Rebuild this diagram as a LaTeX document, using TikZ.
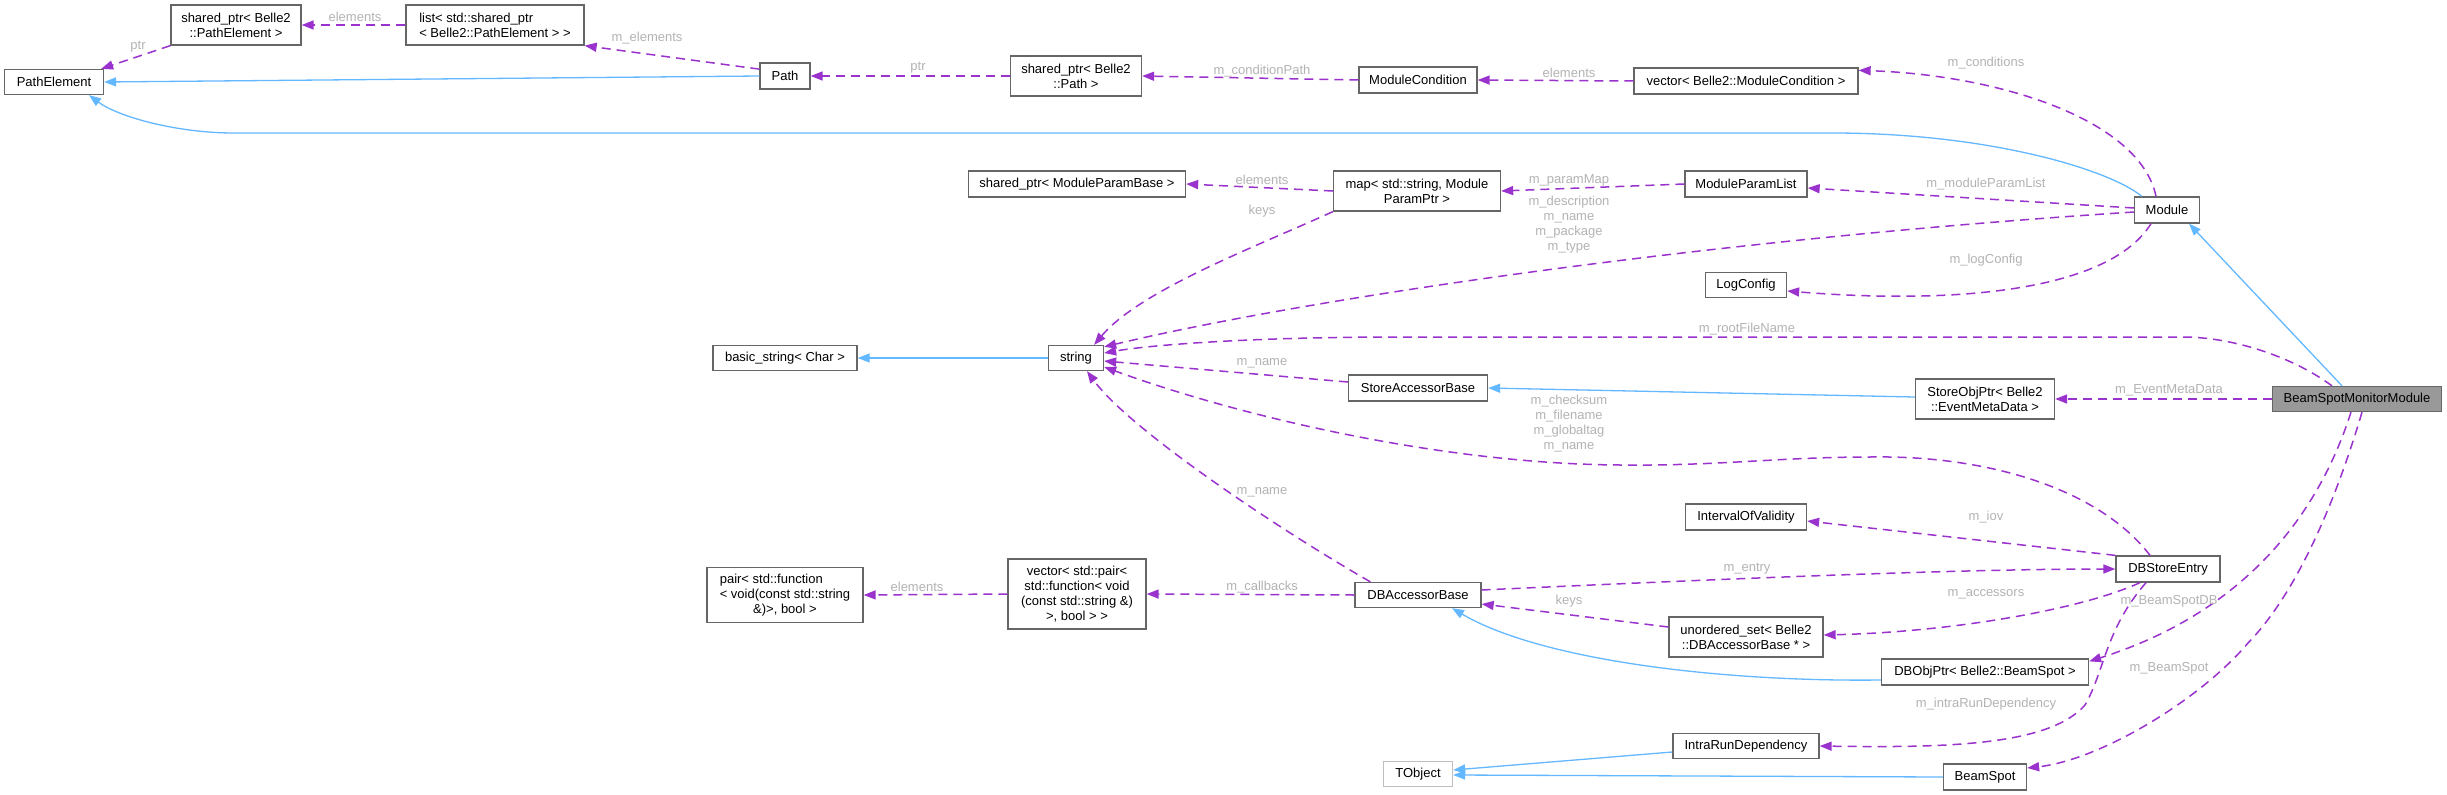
\documentclass[tikz,border=0pt]{standalone}
\usepackage{fontspec}
\setmainfont{Liberation Sans}
\usetikzlibrary{arrows.meta,calc}
\definecolor{depc}{HTML}{9A32CD}
\definecolor{inhc}{HTML}{63B8FF}
\definecolor{bord}{HTML}{666666}
\definecolor{lblc}{HTML}{B3B3B3}
\definecolor{bsmfill}{HTML}{999999}
\definecolor{tobj}{HTML}{BFBFBF}
\begin{document}
\begin{tikzpicture}[x=1pt,y=-1pt,
 box/.style={draw=bord, line width=1.3pt, fill=white, inner sep=0pt, align=center, font=\fontsize{13}{15}\selectfont},
 lbl/.style={text=lblc, inner sep=0pt, align=center, font=\fontsize{13}{15}\selectfont},
 depedge/.style={draw=depc, line width=1.5pt, dash pattern=on 9pt off 6pt, -{Triangle[length=12pt,width=9pt]}},
 inhedge/.style={draw=inhc, line width=1.3pt, -{Triangle[length=12pt,width=9pt]}},
]
\useasboundingbox (0,0) rectangle (2447,795);
\fill[white] (0,0) rectangle (2447,795);

% nodes
\node[box,minimum width=99pt,minimum height=25pt] (PE) at (54,82) {PathElement};
\node[box,minimum width=130pt,minimum height=40pt] (spPE) at (236,25) {shared\_ptr< Belle2\\::PathElement >};
\node[box,minimum width=178pt,minimum height=40pt,align=left] (listPE) at (495,25) {list< std::shared\_ptr\\< Belle2::PathElement > >};
\node[box,minimum width=50pt,minimum height=26pt] (Path) at (785,76) {Path};
\node[box,minimum width=131pt,minimum height=40pt] (spPath) at (1076,76) {shared\_ptr< Belle2\\::Path >};
\node[box,minimum width=118pt,minimum height=26pt] (MC) at (1418,80) {ModuleCondition};
\node[box,minimum width=224pt,minimum height=26pt] (vecMC) at (1746,81) {vector< Belle2::ModuleCondition >};
\node[box,minimum width=217pt,minimum height=26pt] (spMPB) at (1077,184) {shared\_ptr< ModuleParamBase >};
\node[box,minimum width=167pt,minimum height=40pt] (map) at (1417,191) {map< std::string, Module\\ParamPtr >};
\node[box,minimum width=122pt,minimum height=26pt] (MPL) at (1746,184) {ModuleParamList};
\node[box,minimum width=65pt,minimum height=26pt] (Module) at (2167,210) {Module};
\node[box,minimum width=81pt,minimum height=25pt] (LogConfig) at (1746,285) {LogConfig};
\node[box,minimum width=144pt,minimum height=25pt] (bstr) at (785,358) {basic\_string< Char >};
\node[box,minimum width=55pt,minimum height=25pt] (string) at (1076,358) {string};
\node[box,minimum width=139pt,minimum height=26pt] (SAB) at (1418,388) {StoreAccessorBase};
\node[box,minimum width=139pt,minimum height=40pt] (SOP) at (1985,399) {StoreObjPtr< Belle2\\::EventMetaData >};
\node[box,fill=bsmfill,minimum width=169pt,minimum height=25pt] (BSMM) at (2357,399) {BeamSpotMonitorModule};
\node[box,minimum width=121pt,minimum height=26pt] (IOV) at (1746,517) {IntervalOfValidity};
\node[box,minimum width=104pt,minimum height=26pt] (DBSE) at (2168,569) {DBStoreEntry};
\node[box,minimum width=156pt,minimum height=55pt] (pair) at (785,595) {\begin{tabular}{@{}l@{}}pair< std::function\\< void(const std::string\\\multicolumn{1}{@{}c@{}}{\&)>, bool >}\end{tabular}};
\node[box,minimum width=138pt,minimum height=70pt] (vecPair) at (1077,594) {vector< std::pair<\\std::function< void\\(const std::string \&)\\>, bool > >};
\node[box,minimum width=126pt,minimum height=25pt] (DBAB) at (1418,595) {DBAccessorBase};
\node[box,minimum width=154pt,minimum height=40pt] (uset) at (1746,637) {unordered\_set< Belle2\\::DBAccessorBase * >};
\node[box,minimum width=207pt,minimum height=26pt] (DBOP) at (1985,672) {DBObjPtr< Belle2::BeamSpot >};
\node[box,minimum width=146pt,minimum height=25pt] (IRD) at (1746,746) {IntraRunDependency};
\node[box,minimum width=83pt,minimum height=26pt] (BeamSpot) at (1985,777) {BeamSpot};
\node[box,draw=tobj,minimum width=69pt,minimum height=25pt] (TObject) at (1418,774) {TObject};

% inheritance
\draw[inhedge] (Path.west) -- (PE.east);
\draw[inhedge] ([xshift=8pt]Module.north west) .. controls (2110,170) and (1990,133) .. (1832,133) -- (233,133) .. controls (180,133) and (120,118) .. ([xshift=35pt]PE.south);
\draw[inhedge] (string.west) -- (bstr.east);
\draw[inhedge] ([yshift=2pt]SOP.west) -- (SAB.east);
\draw[inhedge] ([xshift=-15pt]BSMM.north) -- ([xshift=22pt]Module.south);
\draw[inhedge] ([yshift=-8pt]DBOP.west) .. controls (1720,682) and (1540,660) .. ([xshift=34pt]DBAB.south);
\draw[inhedge] ([yshift=-6pt]IRD.west) -- ([yshift=4pt]TObject.east);
\draw[inhedge] (BeamSpot.west) -- ([yshift=-1pt]TObject.east);

% usage
\draw[depedge] (spPE.south west) -- ([xshift=-3pt]PE.north east);
\draw[depedge] (listPE.west) -- (spPE.east);
\draw[depedge] (Path.165) -- (listPE.south east);
\draw[depedge] (spPath.west) -- (Path.east);
\draw[depedge] (MC.west) -- (spPath.east);
\draw[depedge] (vecMC.west) -- (MC.east);
\draw[depedge] ([xshift=-11pt]Module.north) .. controls (2140,120) and (2000,75) .. ([yshift=-3pt]vecMC.north east);
\draw[depedge] ([yshift=2pt]Module.west) -- ([yshift=-4pt]MPL.east);
\draw[depedge] (MPL.west) -- (map.east);
\draw[depedge] (map.west) -- (spMPB.east);
\draw[depedge] (map.south west) .. controls (1260,245) and (1140,290) .. ([xshift=-10pt]string.north east);
\draw[depedge] ([yshift=-2pt]Module.west) .. controls (1700,240) and (1300,300) .. ([yshift=-2pt]string.north east);
\draw[depedge] ([xshift=-16pt]Module.south) .. controls (2110,290) and (1960,305) .. ([yshift=-6pt]LogConfig.east);
\draw[depedge] ([xshift=-25pt]BSMM.north) .. controls (2290,355) and (2230,337) .. (2183,337) -- (1400,337) .. controls (1250,337) and (1150,345) .. ([yshift=5pt]string.east);
\draw[depedge] ([yshift=6pt]SAB.west) -- ([yshift=-3pt]string.east);
\draw[depedge] (BSMM.west) -- (SOP.east);
\draw[depedge] ([xshift=-18pt]DBSE.north) .. controls (2100,490) and (1990,455) .. (1870,457) .. controls (1780,457) and (1720,466) .. (1620,465) .. controls (1450,464) and (1250,420) .. ([yshift=-9pt]string.east);
\draw[depedge] ([xshift=16pt]DBAB.north west) .. controls (1280,530) and (1130,430) .. ([xshift=11pt]string.south);
\draw[depedge] (DBSE.north west) -- ([yshift=-4pt]IOV.east);
\draw[depedge] ([yshift=5pt]DBAB.east) .. controls (1700,580) and (1950,569) .. (DBSE.west);
\draw[depedge] (DBAB.west) -- (vecPair.east);
\draw[depedge] (vecPair.west) -- (pair.east);
\draw[depedge] ([yshift=10pt]uset.west) -- ([yshift=-9pt]DBAB.east);
\draw[depedge] ([xshift=-28pt]DBSE.south) .. controls (2080,610) and (1950,632) .. ([yshift=2pt]uset.east);
\draw[depedge] ([xshift=-6pt]BSMM.south) .. controls (2310,540) and (2220,620) .. ([yshift=-3pt]DBOP.north east);
\draw[depedge] ([xshift=-22pt]DBSE.south) .. controls (2105,630) and (2105,670) .. (2085,705) .. controls (2050,745) and (1950,748) .. (IRD.east);
\draw[depedge] ([xshift=5pt]BSMM.south) .. controls (2330,520) and (2290,600) .. (2248,643) .. controls (2200,700) and (2100,760) .. ([yshift=9pt]BeamSpot.east);

% labels
\node[lbl] (l1) at (138,47) {ptr};
\node[lbl] (l2) at (355,17) {elements};
\node[lbl] (l3) at (647,38) {m\_elements};
\node[lbl] (l4) at (918,68) {ptr};
\node[lbl] (l5) at (1262,71) {m\_conditionPath};
\node[lbl] (l6) at (1569,73) {elements};
\node[lbl] (l7) at (1986,63) {m\_conditions};
\node[lbl] (l8) at (1262,180) {elements};
\node[lbl] (l9) at (1569,180) {m\_paramMap};
\node[lbl] (l10) at (1986,184) {m\_moduleParamList};
\node[lbl] (l11) at (1262,211) {keys};
\node[lbl] (l12) at (1569,225) {m\_description\\m\_name\\m\_package\\m\_type};
\node[lbl] (l13) at (1986,260) {m\_logConfig};
\node[lbl] (l14) at (1747,329) {m\_rootFileName};
\node[lbl] (l15) at (2169,390) {m\_EventMetaData};
\node[lbl] (l16) at (1262,363) {m\_name};
\node[lbl] (l17) at (1569,424) {m\_checksum\\m\_filename\\m\_globaltag\\m\_name};
\node[lbl] (l18) at (1262,492) {m\_name};
\node[lbl] (l19) at (1986,517) {m\_iov};
\node[lbl] (l20) at (1747,569) {m\_entry};
\node[lbl] (l21) at (917,587) {elements};
\node[lbl] (l22) at (1262,587) {m\_callbacks};
\node[lbl] (l23) at (1569,601) {keys};
\node[lbl] (l24) at (1986,594) {m\_accessors};
\node[lbl] (l25) at (2169,601) {m\_BeamSpotDB};
\node[lbl] (l26) at (2169,668) {m\_BeamSpot};
\node[lbl] (l27) at (1986,704) {m\_intraRunDependency};
\end{tikzpicture}
\end{document}
